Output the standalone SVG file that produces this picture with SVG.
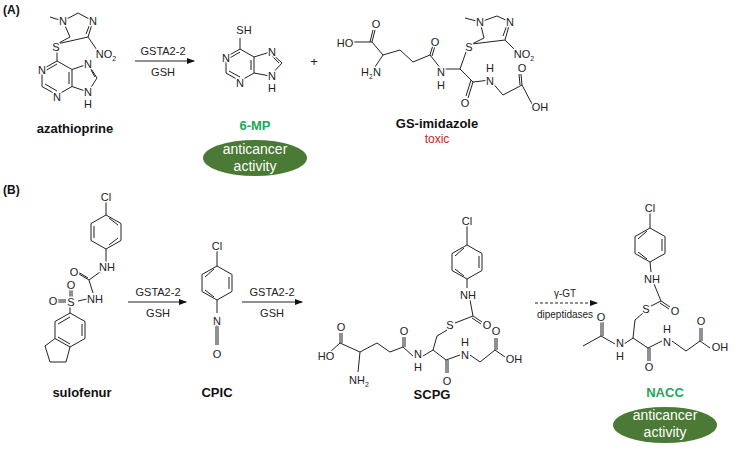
<svg xmlns="http://www.w3.org/2000/svg" width="753" height="450" viewBox="0 0 753 450">
<style>
.b{stroke:#222;stroke-width:1;fill:none}
.a{font-family:"Liberation Sans",Arial,sans-serif;font-size:11px;fill:#222;text-anchor:middle;stroke:#fff;stroke-width:3px;paint-order:stroke;stroke-linejoin:round}
.s{font-size:7px}
.n{font-family:"Liberation Sans",Arial,sans-serif;font-size:13px;font-weight:bold;fill:#111;text-anchor:middle}
.g{fill:#1aa85a}
.e{fill:#4a7a35}
.w{font-family:"Liberation Sans",Arial,sans-serif;font-size:14px;fill:#fff;text-anchor:middle}
.l{font-family:"Liberation Sans",Arial,sans-serif;font-size:12px;font-weight:bold;fill:#111}
</style>
<defs><marker id="ar" markerWidth="8" markerHeight="6" refX="7" refY="3" orient="auto"><path d="M0,0L8,3L0,6z" fill="#111"/></marker></defs>
<rect width="753" height="450" fill="#fff"/>
<text class="l" x="3" y="14">(A)</text>
<text class="l" x="3" y="194">(B)</text>

<g id="azathioprine">
<path class="b" d="M57,61L72,69.5L72,86.5L57,95L42,86.5L42,69.5Z M45,71L57,64 M69,72L69,84 M45,84L57,91 M72,69.5L88,64L97,78L88,92L72,86.5 M90,68L95,77 M57,61L57,51 M57,44L70,37L63,21L78,13L93,21L88,37Z M86,34L90,24 M63,21L50,17 M88,37L97,50"/>
<text class="a" x="42" y="74">N</text><text class="a" x="57" y="101">N</text><text class="a" x="88" y="68">N</text><text class="a" x="88" y="96">N</text><text class="a" x="88" y="108">H</text>
<text class="a" x="63" y="25">N</text><text class="a" x="93" y="25">N</text><text class="a" x="56" y="51">S</text><text class="a" x="106" y="58">NO<tspan class="s" dy="3">2</tspan></text>
<text class="n" x="75" y="133">azathioprine</text>
</g>

<g id="mp6">
<path class="b" d="M240,49L254,57L254,73L240,81L226,73L226,57Z M229,71L240,77 M251,60L251,70 M240,52L228,59 M254,57L270,52L282,63L270,76L254,73 M272,56L279,63 M240,49L240,38"/>
<text class="a" x="244" y="34">SH</text><text class="a" x="226" y="62">N</text><text class="a" x="240" y="87">N</text><text class="a" x="272" y="56">N</text><text class="a" x="272" y="80">N</text><text class="a" x="272" y="92">H</text>
<text class="n g" x="255" y="130">6-MP</text>
<ellipse class="e" cx="255" cy="158" rx="52" ry="18"/>
<text class="w" x="255" y="154">anticancer</text><text class="w" x="255" y="171">activity</text>
</g>

<text class="a" x="314" y="66" style="font-size:13px">+</text>

<g id="gsimidazole">
<path class="b" d="M354,42L372,42L383,55L400,50L413,62L430,55L441,69L460,69L473,82L490,80L503,95L522,85L532,104 M372,42L375,30 M370,42L373,30 M383,55L375,67 M430,55L433,45 M432,56L435,46 M473,82L468,98 M471,80L466,96 M522,85L521,74 M520,85L519,74 M460,69L466,52 M472,44L484,38L480,22L497,16L510,22L505,40Z M503,36L507,25 M480,22L465,18 M505,40L515,50"/>
<text class="a" x="345" y="47">HO</text><text class="a" x="376" y="28">O</text><text class="a" x="371" y="76">H<tspan class="s" dy="3">2</tspan><tspan dy="-3">N</tspan></text>
<text class="a" x="435" y="46">O</text><text class="a" x="441" y="76">N</text><text class="a" x="441" y="89">H</text>
<text class="a" x="469" y="51">S</text><text class="a" x="480" y="26">N</text><text class="a" x="510" y="26">N</text><text class="a" x="524" y="58">NO<tspan class="s" dy="3">2</tspan></text>
<text class="a" x="465" y="107">O</text><text class="a" x="490" y="85">N</text><text class="a" x="490" y="72">H</text><text class="a" x="522" y="72">O</text><text class="a" x="540" y="111">OH</text>
<text class="n" x="437" y="128">GS-imidazole</text>
<text class="n" x="437" y="143" style="fill:#cc2222;font-size:12px;font-weight:normal">toxic</text>
</g>

<g id="sulofenur">
<path class="b" d="M106,202L106,215 M106,215L121,223.5L121,240.5L106,249L91,240.5L91,223.5Z M109,218L118,225 M118,238L109,245 M94,238L94,226 M106,249L106,262 M100,272L89,280L93,293 M89,280L79,274 M88,278L78,272 M87,299L78,301 M70,297L70,290 M72,297L72,290 M66,302L58,302 M66,300L58,300 M70,307L70,313 M70,313L85,321.5L85,338.5L70,347L55,338.5L55,321.5Z M82,324L82,336 M70,344L58,337 M58,324L70,317 M55,338.5L45,346L50,362L66,362L70,347"/>
<text class="a" x="106" y="201">Cl</text><text class="a" x="107" y="271">NH</text><text class="a" x="74" y="276">O</text><text class="a" x="95" y="303">NH</text>
<text class="a" x="71" y="306">S</text><text class="a" x="71" y="289">O</text><text class="a" x="53" y="305">O</text>
<text class="n" x="82" y="397">sulofenur</text>
</g>

<g id="cpic">
<path class="b" d="M217,251L217,266 M217,266L232,274.5L232,291.5L217,300L202,291.5L202,274.5Z M229,277L229,289 M214,297L205,290 M205,277L214,269 M217,300L217,313 M216,325L216,345 M218,325L218,345"/>
<text class="a" x="217" y="250">Cl</text><text class="a" x="217" y="325">N</text><text class="a" x="217" y="358">O</text>
<text class="n" x="217" y="397">CPIC</text>
</g>

<g id="scpg">
<path class="b" d="M467,226L467,245 M467,245L482,253.5L482,270.5L467,279L452,270.5L452,253.5Z M479,256L479,268 M464,276L455,269 M455,256L464,248 M467,279L467,288 M470,300L473,316L455,323 M473,316L482,322 M472,318L481,324 M447,330L437,336L433,350L423,356 M413,356L403,347L390,352L377,343L360,352L340,343L330,352 M403,347L403,337 M405,347L405,337 M340,343L340,333 M342,343L342,333 M360,352L358,372 M433,350L446,360L460,355 M446,360L446,373 M448,360L448,373 M470,355L480,362L495,350L505,357 M495,350L495,338 M497,350L497,338"/>
<text class="a" x="467" y="225">Cl</text><text class="a" x="468" y="299">NH</text><text class="a" x="450" y="329">S</text><text class="a" x="487" y="329">O</text>
<text class="a" x="418" y="358">N</text><text class="a" x="418" y="371">H</text><text class="a" x="404" y="335">O</text><text class="a" x="341" y="331">O</text><text class="a" x="326" y="360">HO</text>
<text class="a" x="359" y="384">NH<tspan class="s" dy="3">2</tspan></text>
<text class="a" x="447" y="385">O</text><text class="a" x="465" y="359">N</text><text class="a" x="465" y="346">H</text><text class="a" x="496" y="335">O</text><text class="a" x="514" y="363">OH</text>
<text class="n" x="432" y="399">SCPG</text>
</g>

<g id="nacc">
<path class="b" d="M650,213L650,228 M650,228L665,236.5L665,253.5L650,262L635,253.5L635,236.5Z M662,239L662,251 M647,259L638,252 M638,239L647,231 M650,262L651,272 M654,284L661,301L651,306 M661,301L670,307 M660,303L669,309 M643,313L635,320L633,338L624,344 M615,344L601,336L583,346 M601,336L601,322 M603,336L603,322 M633,338L648,348L662,341 M648,348L648,361 M650,348L650,361 M672,341L686,351L700,341L710,348 M700,341L700,328 M702,341L702,328"/>
<text class="a" x="650" y="212">Cl</text><text class="a" x="652" y="283">NH</text><text class="a" x="646" y="313">S</text><text class="a" x="675" y="315">O</text>
<text class="a" x="620" y="347">N</text><text class="a" x="620" y="360">H</text><text class="a" x="601" y="321">O</text>
<text class="a" x="649" y="371">O</text><text class="a" x="667" y="346">N</text><text class="a" x="667" y="333">H</text><text class="a" x="701" y="325">O</text><text class="a" x="720" y="351">OH</text>
<text class="n g" x="665" y="397">NACC</text>
<ellipse class="e" cx="665" cy="425" rx="52" ry="18"/>
<text class="w" x="665" y="420">anticancer</text><text class="w" x="665" y="437">activity</text>
</g>

<g id="connectors">
<line class="b" x1="135" y1="61" x2="194" y2="61" marker-end="url(#ar)"/>
<text class="a" x="163" y="55">GSTA2-2</text><text class="a" x="163" y="76">GSH</text>
<line class="b" x1="128" y1="302" x2="186" y2="302" marker-end="url(#ar)"/>
<text class="a" x="158" y="296">GSTA2-2</text><text class="a" x="158" y="317">GSH</text>
<line class="b" x1="242" y1="302" x2="302" y2="302" marker-end="url(#ar)"/>
<text class="a" x="272" y="296">GSTA2-2</text><text class="a" x="272" y="317">GSH</text>
<line class="b" x1="535" y1="303" x2="597" y2="303" stroke-dasharray="3,2" marker-end="url(#ar)"/>
<text class="a" x="565" y="297" style="font-size:10px">γ-GT</text><text class="a" x="565" y="318" style="font-size:10px">dipeptidases</text>
</g>
</svg>
